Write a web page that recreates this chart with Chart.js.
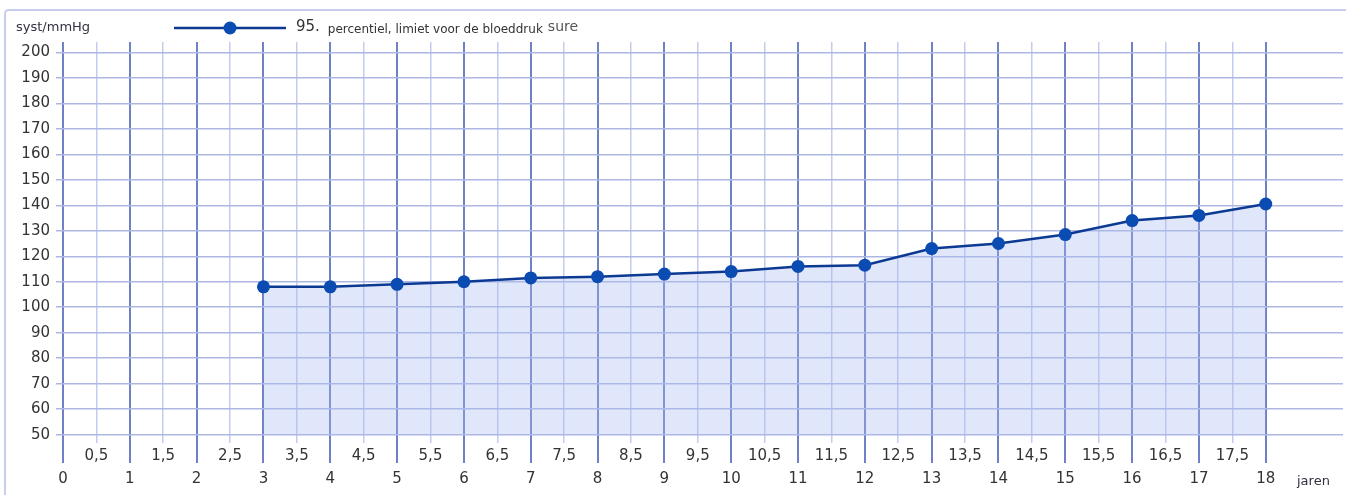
<!DOCTYPE html>
<html>
<head>
<meta charset="utf-8">
<script src="https://cdn.jsdelivr.net/npm/chart.js@4.4.1/dist/chart.umd.min.js"></script>
<style>
  body { margin: 0; background: #fff; }
  canvas { display: block; }
</style>
</head>
<body>
<canvas id="bpChart" width="1351" height="495"></canvas>
<script>
// ages (jaren) and the 95th percentile systolic limit
var ages      = [3, 4, 5, 6, 7, 8, 9, 10, 11, 12, 13, 14, 15, 16, 17, 18];
var systolic  = [108, 108, 109, 110, 111.5, 112, 113, 114, 116, 116.5, 123, 125, 128.5, 134, 136, 140.5];
var yTicks    = [50, 60, 70, 80, 90, 100, 110, 120, 130, 140, 150, 160, 170, 180, 190, 200];
var xTicks    = [];
for (var t = 0; t <= 36; t++) xTicks.push(t / 2);

var seriesLabel = "95. percentiel, limiet voor de bloeddruk sure";

var FONT      = "'DejaVu Sans', sans-serif";
var gridH     = '#aeb7e3';
var gridInt   = '#6f80c6';
var gridHalf  = '#c3cbee';
var lineColor = '#0c3a92';
var dotColor  = '#0b4cb3';

var extras = {
    id: 'extras',
    beforeDraw: function(chart) {
        var ctx = chart.ctx;
        ctx.save();
        ctx.strokeStyle = '#c7cdee';
        ctx.lineWidth = 2;
        ctx.beginPath();
        ctx.moveTo(5, 505);
        ctx.lineTo(5, 14);
        ctx.quadraticCurveTo(5, 10, 9, 10);
        ctx.lineTo(1346, 10);
        ctx.stroke();
        ctx.restore();
    },
    afterDraw: function(chart) {
        var ctx = chart.ctx;
        var xs  = chart.scales.x;
        var bottom = chart.chartArea.bottom;
        ctx.save();

        // integer year lines run on below the plot
        ctx.strokeStyle = gridInt;
        ctx.lineWidth = 2;
        for (var i = 0; i <= 18; i++) {
            var px = Math.round(xs.getPixelForValue(i));
            ctx.beginPath();
            ctx.moveTo(px, bottom);
            ctx.lineTo(px, 463);
            ctx.stroke();
        }

        // axis captions
        ctx.fillStyle = '#33303f';
        ctx.textBaseline = 'middle';
        ctx.textAlign = 'left';
        ctx.font = '13px ' + FONT;
        ctx.fillText('syst/mmHg', 16, 28);
        ctx.fillText('jaren', 1297, 482);

        // legend
        ctx.strokeStyle = lineColor;
        ctx.lineWidth = 2.5;
        ctx.beginPath();
        ctx.moveTo(174, 28);
        ctx.lineTo(286, 28);
        ctx.stroke();
        ctx.fillStyle = dotColor;
        ctx.beginPath();
        ctx.arc(230, 28, 6.5, 0, 2 * Math.PI);
        ctx.fill();

        var parts = seriesLabel.split(' ');
        var first = parts[0];
        var last  = parts[parts.length - 1];
        var mid   = parts.slice(1, parts.length - 1).join(' ');
        var x = 296;
        ctx.fillStyle = '#333';
        ctx.font = '15px ' + FONT;
        ctx.fillText(first, x, 27);
        x += ctx.measureText(first).width + 8;
        ctx.font = '12px ' + FONT;
        ctx.fillText(mid, x, 30);
        x += ctx.measureText(mid).width + 5;
        ctx.fillStyle = '#555';
        ctx.font = '14px ' + FONT;
        ctx.fillText(last, x, 27);

        ctx.restore();
    }
};

var ctx = document.getElementById("bpChart");
var bpChart = new Chart(ctx, {
    type: 'line',
    plugins: [extras],
    data: {
        datasets: [
            {
                label: seriesLabel,
                data: ages.map(function(a, i) { return { x: a, y: systolic[i] }; }),
                borderColor: lineColor,
                borderWidth: 2.5,
                backgroundColor: 'rgba(170, 185, 240, 0.35)',
                fill: { value: 50 },
                pointRadius: 6.5,
                pointBackgroundColor: dotColor,
                pointBorderColor: dotColor,
                pointBorderWidth: 0,
                tension: 0
            }]
    },
    options: {
        responsive: false,
        animation: false,
        layout: {
            padding: { top: 42, right: 8, left: 0, bottom: 0 }
        },
        plugins: {
            legend: { display: false },
            tooltip: { enabled: false }
        },
        scales: {
            x: {
                type: 'linear',
                min: 0,
                max: 19.156,
                afterBuildTicks: function(scale) {
                    scale.ticks = xTicks.map(function(v) { return { value: v }; });
                },
                afterFit: function(scale) {
                    scale.height = 52;
                },
                border: { display: false },
                grid: {
                    drawTicks: false,
                    color: function(c) {
                        return Number.isInteger(c.tick.value) ? gridInt : gridHalf;
                    },
                    lineWidth: function(c) {
                        return Number.isInteger(c.tick.value) ? 2 : 1.5;
                    }
                },
                ticks: {
                    autoSkip: false,
                    maxRotation: 0,
                    padding: 2,
                    color: '#333',
                    font: { family: FONT, size: 15, lineHeight: 1.53 },
                    callback: function(v) {
                        if (Number.isInteger(v)) return ['', String(v)];
                        return String(v).replace('.', ',');
                    }
                }
            },
            y: {
                min: 46.75,
                max: 204.04,
                afterBuildTicks: function(scale) {
                    scale.ticks = yTicks.map(function(v) { return { value: v }; });
                },
                afterFit: function(scale) {
                    scale.width = 63;
                },
                border: { display: false },
                grid: {
                    color: gridH,
                    lineWidth: 1.5,
                    tickLength: 7,
                    tickColor: gridH
                },
                ticks: {
                    padding: 6,
                    color: '#333',
                    font: { family: FONT, size: 15 }
                }
            }
        }
    }
});
</script>
</body>
</html>
